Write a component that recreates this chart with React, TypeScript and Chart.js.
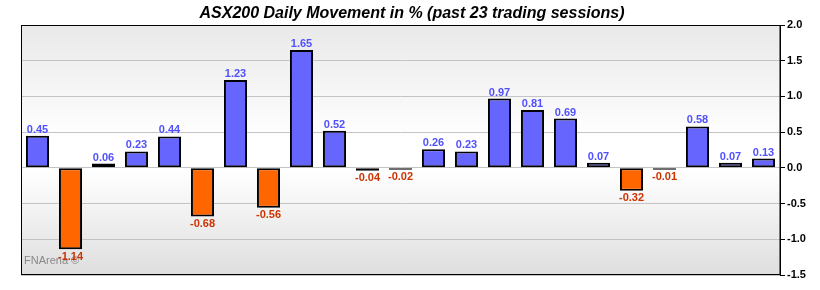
import React, { useEffect, useRef } from "react";
import { Chart, registerables } from "chart.js";

Chart.register(...registerables);

const sessions: string[] = Array.from({ length: 23 }, (_, i) => `S${i + 1}`);
const movement: number[] = [
  0.45, -1.14, 0.06, 0.23, 0.44, -0.68, 1.23, -0.56, 1.65, 0.52, -0.04, -0.02,
  0.26, 0.23, 0.97, 0.81, 0.69, 0.07, -0.32, -0.01, 0.58, 0.07, 0.13,
];
const titleText = "ASX200 Daily Movement in % (past 23 trading sessions)";
const watermark = "FNArena ©";

const FONT = "'Liberation Sans', Arial, sans-serif";

const customPlugin = {
  id: "custom",
  beforeDraw(chart: any) {
    const { ctx, chartArea: a } = chart;
    ctx.save();
    ctx.fillStyle = "#ffffff";
    ctx.fillRect(0, 0, chart.width, chart.height);
    const g = ctx.createLinearGradient(0, a.top, 0, a.bottom);
    g.addColorStop(0, "#e9e9e9");
    g.addColorStop(0.46, "#ffffff");
    g.addColorStop(0.58, "#ffffff");
    g.addColorStop(1, "#dedede");
    ctx.fillStyle = g;
    ctx.fillRect(a.left, a.top, a.right - a.left, a.bottom - a.top);
    ctx.fillStyle = "#000";
    ctx.font = `italic bold 16px ${FONT}`;
    ctx.textAlign = "center";
    ctx.textBaseline = "alphabetic";
    ctx.fillText(titleText, 412, 18);
    ctx.restore();
  },
  beforeDatasetsDraw(chart: any) {
    const { ctx, chartArea: a } = chart;
    ctx.save();
    ctx.fillStyle = "#888888";
    ctx.font = `11px ${FONT}`;
    ctx.textAlign = "left";
    ctx.textBaseline = "alphabetic";
    ctx.fillText(watermark, a.left + 3, 264);
    ctx.restore();
  },
  afterDatasetsDraw(chart: any) {
    const { ctx, chartArea: a } = chart;
    const meta = chart.getDatasetMeta(0);
    const zeroY = chart.scales.y.getPixelForValue(0);
    ctx.save();
    ctx.font = `bold 11px ${FONT}`;
    ctx.textAlign = "center";
    meta.data.forEach((el: any, i: number) => {
      const v = movement[i];
      const txt = v.toFixed(2);
      if (v >= 0) {
        ctx.fillStyle = "#5050ff";
        ctx.textBaseline = "alphabetic";
        ctx.fillText(txt, el.x, Math.min(el.y, zeroY) - 3);
      } else {
        ctx.fillStyle = "#cc3300";
        ctx.textBaseline = "top";
        ctx.fillText(txt, el.x, Math.max(el.y, zeroY + 2) + 2);
      }
    });
    ctx.strokeStyle = "#000";
    ctx.lineWidth = 1;
    ctx.strokeRect(a.left + 0.5, a.top + 0.5, a.right - a.left - 0.5, a.bottom - a.top - 1);
    ctx.restore();
  },
};

export default function App() {
  const ref = useRef<HTMLCanvasElement>(null);
  useEffect(() => {
    if (!ref.current) return;
    const chart = new Chart(ref.current, {
      type: "bar",
      data: {
        labels: sessions,
        datasets: [
          {
            data: movement,
            backgroundColor: movement.map((v) => (v >= 0 ? "#6666ff" : "#ff6600")),
            borderColor: "#000000",
            borderWidth: 2,
            borderSkipped: false,
            minBarLength: 2,
            barPercentage: 0.7,
            categoryPercentage: 1,
          },
        ],
      },
      options: {
        animation: false,
        responsive: false,
        maintainAspectRatio: false,
        events: [],
        layout: { padding: { left: 21, right: 0, top: 25, bottom: 15 } },
        plugins: {
          legend: { display: false },
          title: { display: false },
          tooltip: { enabled: false },
        },
        scales: {
          x: {
            display: false,
            offset: true,
            grid: { display: false },
          },
          y: {
            position: "right",
            min: -1.5,
            max: 2,
            afterFit: (s: any) => {
              s.width = 40;
            },
            ticks: {
              stepSize: 0.5,
              color: "#000",
              padding: 2,
              font: { family: FONT, size: 11, weight: "bold" },
              callback: (v: any) => Number(v).toFixed(1),
            },
            border: { display: true, color: "#000", width: 1 },
            grid: {
              color: "#c4c4c4",
              tickColor: "#000",
              tickLength: 5,
              drawTicks: true,
            },
          },
        },
      },
      plugins: [customPlugin],
    });
    return () => chart.destroy();
  }, []);
  return (
    <div style={{ position: "fixed", left: 0, top: 0, width: 820, height: 290, background: "#fff" }}>
      <canvas ref={ref} width={820} height={290} style={{ width: 820, height: 290, display: "block" }} />
    </div>
  );
}
